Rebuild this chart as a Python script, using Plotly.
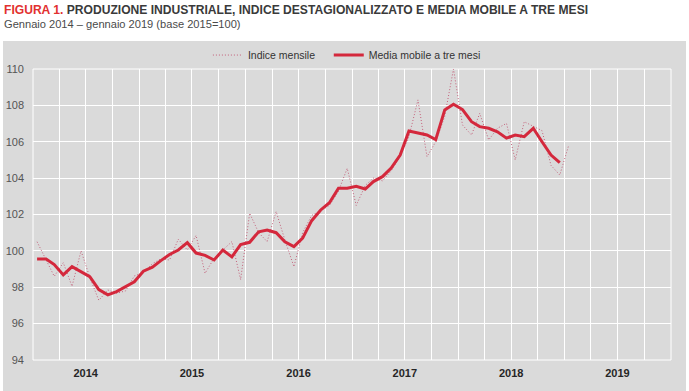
import pandas as pd
import plotly.graph_objects as go

# Monthly dates Jan 2014 - Jan 2019
months = pd.date_range("2014-01-01", "2019-01-01", freq="MS")

indice_mensile = [
    100.5, 99.53, 98.6, 99.35, 98.05, 100.0, 98.55, 97.28, 97.85, 97.67, 97.8, 98.62,
    98.8, 99.3, 99.55, 99.5, 100.64, 100.05, 100.85, 98.77, 99.6, 100.05, 100.51, 98.42,
    102.07, 101.0, 100.51, 102.16, 100.6, 99.13, 101.0, 101.95, 102.2, 102.5, 103.28, 104.54,
    102.5, 103.6, 104.0, 103.85, 104.4, 105.2, 106.28, 108.3, 105.18, 106.0, 107.4, 110.0,
    106.92, 106.37, 107.56, 106.1, 106.74, 107.01, 105.0, 107.1, 106.83, 106.61, 104.7, 104.17,
    105.82,
]

media_mobile = [
    99.55, 99.55, 99.25, 98.68, 99.13, 98.86, 98.58, 97.87, 97.58, 97.76, 98.03, 98.3,
    98.88, 99.1, 99.45, 99.8, 100.05, 100.45, 99.88, 99.75, 99.5, 100.05, 99.67, 100.35,
    100.47, 101.05, 101.15, 101.0, 100.5, 100.23, 100.7, 101.66, 102.25, 102.65, 103.44, 103.44,
    103.55, 103.4, 103.81, 104.08, 104.55, 105.27, 106.59, 106.5, 106.37, 106.12, 107.75, 108.06,
    107.77, 107.1, 106.83, 106.74, 106.55, 106.2, 106.37, 106.28, 106.74, 106.0, 105.27, 104.85,
]

year_labels = ["2014", "2015", "2016", "2017", "2018", "2019"]
y_ticks = [94, 96, 98, 100, 102, 104, 106, 108, 110]

title_red = "FIGURA 1."
title_rest = "PRODUZIONE INDUSTRIALE, INDICE DESTAGIONALIZZATO E MEDIA MOBILE A TRE MESI"
subtitle = "Gennaio 2014 \u2013 gennaio 2019 (base 2015=100)"

FONT = "Liberation Sans Narrow, Arial Narrow, Liberation Sans, Arial, sans-serif"
GRAY = "#dadada"

# mid-month positions
x_ind = months + pd.Timedelta(days=14)
x_mm = x_ind[: len(media_mobile)]

fig = go.Figure()
fig.add_trace(go.Scatter(
    x=x_ind, y=indice_mensile, mode="lines", name="Indice mensile\u00a0\u00a0\u00a0",
    line=dict(color="#c4607a", width=1, dash="1px,2px"),
))
fig.add_trace(go.Scatter(
    x=x_mm, y=media_mobile, mode="lines", name="Media mobile a tre mesi",
    line=dict(color="#d4283c", width=3),
))
# invisible trace for the year-label axis
year_pos = [pd.Timestamp(f"{y}-07-01") for y in year_labels]
fig.add_trace(go.Scatter(x=year_pos, y=[None] * len(year_pos), xaxis="x2",
                         showlegend=False, hoverinfo="skip"))

fig.update_layout(
    width=689, height=391,
    margin=dict(l=33, r=18, t=69, b=31, autoexpand=False),
    paper_bgcolor="white",
    plot_bgcolor=GRAY,
    font=dict(family=FONT, size=11, color="#404040"),
    showlegend=True,
    legend=dict(orientation="h", x=0.492, xanchor="center", y=1.048, yanchor="middle",
                bgcolor="rgba(0,0,0,0)", font=dict(size=10.5, color="#333333"),
                itemwidth=30, tracegroupgap=0),
    xaxis=dict(
        type="date", range=["2014-01-01", "2020-01-01"],
        tick0="2014-01-01", dtick="M3", showticklabels=False, ticks="",
        showgrid=True, gridcolor="white", gridwidth=1, zeroline=False,
        showline=False,
    ),
    xaxis2=dict(
        type="date", range=["2014-01-01", "2020-01-01"], overlaying="x", side="bottom",
        tickmode="array", tickvals=year_pos, ticktext=[f"<b>{t}</b>" for t in year_labels],
        showgrid=False, ticks="", tickfont=dict(size=11, color="#262626", family=FONT),
        ticklabelstandoff=5, anchor="y",
    ),
    yaxis=dict(
        range=[94, 110], tickvals=y_ticks, ticks="", showgrid=True, gridcolor="white",
        gridwidth=1, zeroline=False, tickfont=dict(size=11, color="#555555"),
        ticklabelstandoff=8,
    ),
    shapes=[
        dict(type="rect", xref="paper", yref="paper", x0=-0.047, x1=1.0235,
             y0=-0.12, y1=1.096, fillcolor=GRAY, line=dict(width=0), layer="below"),
        dict(type="rect", xref="paper", yref="paper", x0=0, x1=1, y0=0, y1=1,
             line=dict(color="white", width=1), layer="below"),
    ],
    annotations=[
        dict(xref="paper", yref="paper", x=-0.049, y=1.203, xanchor="left", yanchor="middle",
             showarrow=False,
             text=f"<b><span style='color:#e2312f'>{title_red}</span> {title_rest}</b>",
             font=dict(size=12.1, color="#3a3a3a", family=FONT)),
        dict(xref="paper", yref="paper", x=-0.049, y=1.155, xanchor="left", yanchor="middle",
             showarrow=False, text=subtitle,
             font=dict(size=11.1, color="#4a4a4a", family=FONT)),
    ],
)

fig.write_html("out.html", config={"displayModeBar": False},
               post_script="document.body.style.margin='0';")
